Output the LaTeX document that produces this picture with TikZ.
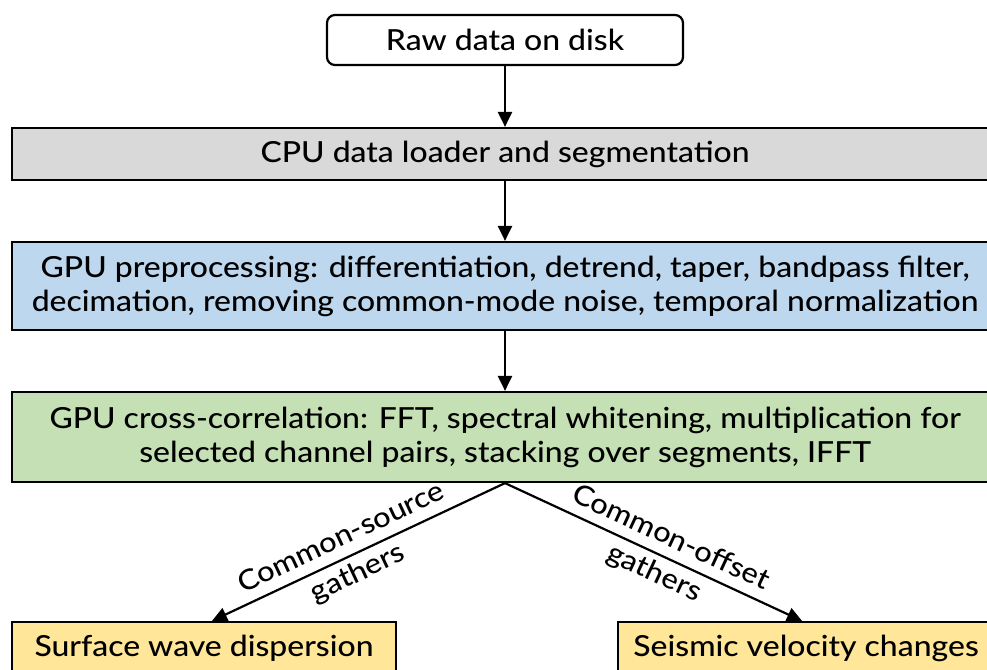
\documentclass[tikz,border=0pt]{standalone}
\usepackage{fontspec}
\setmainfont{Lato Medium}[FakeStretch=1.1]
\usetikzlibrary{arrows.meta}

\definecolor{loadgray}{HTML}{D9D9D9}
\definecolor{prepblue}{HTML}{BDD7EE}
\definecolor{xcorrgreen}{HTML}{C5E0B4}
\definecolor{outyellow}{HTML}{FFE699}

\begin{document}
\begin{tikzpicture}[x=1pt, y=-1pt,
  box/.style={draw, line width=2.2pt, inner sep=0pt, align=center,
    font=\fontsize{29}{34}\selectfont},
  flow/.style={line width=2.2pt, -{Triangle[length=15pt, width=14pt]}},
  edgelabel/.style={font=\fontsize{28}{39}\selectfont, sloped, align=center, inner sep=0pt}
]
\useasboundingbox (0,0) rectangle (987,669);
\clip (0,0) rectangle (987,669);

% pipeline stages
\node[box, rounded corners=8pt, minimum width=356pt, minimum height=50pt] (raw) at (505,40)
  {Raw data on disk};
\node[box, fill=loadgray, minimum width=986pt, minimum height=52pt] (cpu) at (505,154)
  {CPU data loader and segmentation};
\node[box, fill=prepblue, minimum width=986pt, minimum height=88pt] (prep) at (505,286)
  {GPU preprocessing: differentiation, detrend, taper, bandpass filter,\\
   decimation, removing common-mode noise, temporal normalization};
\node[box, fill=xcorrgreen, minimum width=986pt, minimum height=90pt] (xcorr) at (505,437)
  {GPU cross-correlation: FFT, spectral whitening, multiplication for\\
   selected channel pairs, stacking over segments, IFFT};

% downstream analyses
\node[box, fill=outyellow, minimum width=384pt, minimum height=52pt] (disp) at (204,648)
  {Surface wave dispersion};
\node[box, fill=outyellow, minimum width=376pt, minimum height=52pt] (dvv) at (806,648)
  {Seismic velocity changes};

% connectors
\draw[flow] (raw) -- (cpu);
\draw[flow] (cpu) -- (prep);
\draw[flow] (prep) -- (xcorr);
\draw[flow] (xcorr.south) -- ([xshift=8pt]disp.north)
  node[edgelabel, pos=0.53] {Common-source\\gathers};
\draw[flow] (xcorr.south) -- ([xshift=-4pt]dvv.north)
  node[edgelabel, pos=0.53] {Common-offset\\gathers};
\end{tikzpicture}
\end{document}
